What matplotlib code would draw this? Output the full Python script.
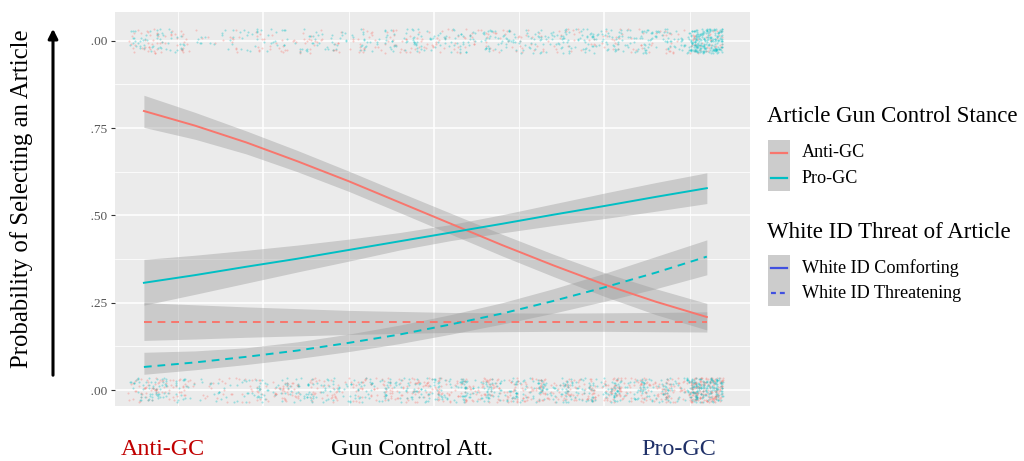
import numpy as np
import matplotlib.pyplot as plt
from matplotlib.patches import Rectangle
from matplotlib.lines import Line2D

plt.rcParams['font.family'] = ['Liberation Serif', 'DejaVu Serif']

# Gun control attitude grid for the fitted curves
att = [0.6, 1.2, 1.8, 2.4, 3.0, 3.6, 4.2, 4.8, 5.4, 6.0, 6.6, 7.2]

# Predicted probability of selecting an article, with 95% band
anti_comf = [0.799, 0.757, 0.709, 0.655, 0.598, 0.537, 0.476, 0.415, 0.357, 0.302, 0.253, 0.209]
anti_comf_lo = [0.752, 0.718, 0.676, 0.625, 0.569, 0.508, 0.446, 0.384, 0.325, 0.268, 0.216, 0.172]
anti_comf_hi = [0.844, 0.795, 0.742, 0.686, 0.627, 0.566, 0.506, 0.446, 0.389, 0.336, 0.290, 0.248]

pro_comf = [0.307, 0.329, 0.353, 0.376, 0.401, 0.426, 0.451, 0.476, 0.502, 0.527, 0.553, 0.578]
pro_comf_lo = [0.243, 0.274, 0.306, 0.338, 0.369, 0.401, 0.428, 0.450, 0.471, 0.491, 0.512, 0.534]
pro_comf_hi = [0.374, 0.386, 0.400, 0.415, 0.432, 0.451, 0.474, 0.502, 0.533, 0.564, 0.594, 0.622]

anti_thr = [0.195, 0.195, 0.195, 0.195, 0.195, 0.195, 0.195, 0.195, 0.195, 0.195, 0.195, 0.195]
anti_thr_lo = [0.142, 0.146, 0.151, 0.155, 0.159, 0.162, 0.165, 0.167, 0.168, 0.168, 0.167, 0.166]
anti_thr_hi = [0.250, 0.244, 0.238, 0.233, 0.228, 0.225, 0.222, 0.221, 0.220, 0.221, 0.222, 0.224]

pro_thr = [0.066, 0.079, 0.095, 0.113, 0.135, 0.159, 0.188, 0.219, 0.255, 0.294, 0.336, 0.382]
pro_thr_lo = [0.045, 0.058, 0.073, 0.090, 0.110, 0.133, 0.160, 0.189, 0.220, 0.254, 0.290, 0.330]
pro_thr_hi = [0.108, 0.112, 0.121, 0.138, 0.160, 0.186, 0.216, 0.250, 0.290, 0.334, 0.382, 0.430]

# Raw choices: number of respondents per attitude level
levels = [0.6, 0.9, 1.2, 1.5, 1.8, 2.1, 2.4, 2.7, 3.0, 3.3, 3.6, 3.9,
          4.2, 4.5, 4.8, 5.1, 5.4, 5.7, 6.0, 6.3, 6.6, 6.9, 7.2]
sel_anti = [28, 22, 7, 7, 9, 12, 14, 14, 12, 16, 18, 18, 16, 14, 14, 14, 12, 12, 12, 12, 14, 14, 35]
sel_pro = [28, 22, 7, 9, 12, 14, 16, 16, 14, 18, 23, 23, 23, 25, 28, 28, 28, 32, 32, 32, 37, 40, 200]
rej_anti = [38, 32, 9, 12, 18, 23, 28, 28, 23, 23, 32, 37, 37, 38, 40, 40, 40, 45, 45, 45, 49, 54, 160]
rej_pro = [38, 32, 9, 12, 18, 23, 28, 28, 23, 23, 32, 37, 37, 38, 37, 37, 37, 40, 40, 40, 40, 45, 140]

RED = '#F8766D'
TEAL = '#00BFC4'


def frac_hash(idx, salt):
    v = np.sin(idx * 12.9898 + salt * 78.233) * 43758.5453
    return v - np.floor(v)


def spread(counts, y0, start):
    # jitter the points around each attitude level
    xs, ys = [], []
    k = start
    for lv, n in zip(levels, counts):
        idx = np.arange(k, k + n, dtype=float)
        xs.append(lv + (frac_hash(idx, 1.0) - 0.5) * 0.38)
        ys.append(y0 + (frac_hash(idx, 2.0) - 0.5) * 0.07)
        k += n
    return np.concatenate(xs), np.concatenate(ys)


fig = plt.figure(figsize=(10.24, 4.61), dpi=100)
ax = fig.add_axes([115 / 1024, 1 - 406 / 461, 635 / 1024, 394 / 461])
ax.set_facecolor('#EBEBEB')
for s in ax.spines.values():
    s.set_visible(False)

ax.set_xlim(0.261, 7.706)
ax.set_ylim(-0.0458, 1.0825)
ax.set_xticks([2, 4, 6])
ax.set_xticks([1, 3, 5, 7], minor=True)
ax.set_yticks([0, 0.25, 0.5, 0.75, 1.0])
ax.set_yticks([0.125, 0.375, 0.625, 0.875], minor=True)
ax.set_yticklabels(['0.00', '0.25', '0.50', '0.75', '1.00'])
ax.grid(which='major', color='white', linewidth=1.1)
ax.grid(which='minor', color='white', linewidth=0.55)
ax.set_axisbelow(True)
ax.tick_params(axis='x', which='both', length=0, labelbottom=False)
ax.tick_params(axis='y', which='major', length=3, color='#333333',
               labelsize=9.5, labelcolor='#555555', pad=2)
ax.tick_params(axis='y', which='minor', length=0)

# jittered raw responses
x, y = spread(rej_anti, 0.0, 1)
ax.scatter(x, y, s=2.2, color=RED, alpha=0.35, linewidths=0)
x, y = spread(rej_pro, 0.0, 1500)
ax.scatter(x, y, s=2.2, color=TEAL, alpha=0.35, linewidths=0)
x, y = spread(sel_anti, 1.0, 3000)
ax.scatter(x, y, s=2.2, color=RED, alpha=0.35, linewidths=0)
x, y = spread(sel_pro, 1.0, 4500)
ax.scatter(x, y, s=2.2, color=TEAL, alpha=0.35, linewidths=0)

# confidence bands
for lo, hi in [(anti_comf_lo, anti_comf_hi), (pro_comf_lo, pro_comf_hi),
               (anti_thr_lo, anti_thr_hi), (pro_thr_lo, pro_thr_hi)]:
    ax.fill_between(att, lo, hi, color='#999999', alpha=0.4, linewidth=0)

dash = (0, (4, 3))
ax.plot(att, anti_comf, color=RED, linewidth=1.4)
ax.plot(att, pro_comf, color=TEAL, linewidth=1.4)
ax.plot(att, anti_thr, color=RED, linewidth=1.4, linestyle=dash)
ax.plot(att, pro_thr, color=TEAL, linewidth=1.4, linestyle=dash)

# left edge of the tick labels is trimmed
fig.add_artist(Rectangle((60 / 1024, 0), 31 / 1024, 1, transform=fig.transFigure,
                         facecolor='white', edgecolor='none', zorder=5))

# y axis title with arrow
fig.text(22 / 1024, 1 - 199 / 461, 'Probability of Selecting an Article',
         rotation=90, ha='center', va='center', fontsize=17.8)
fig.add_artist(plt.Annotation('', xy=(53 / 1024, 1 - 26 / 461), xytext=(53 / 1024, 1 - 378 / 461),
                              xycoords='figure fraction',
                              arrowprops=dict(arrowstyle='-|>', color='black', lw=2.2,
                                              mutation_scale=14)))

# x axis labels
fig.text(163 / 1024, 1 - 449 / 461, 'Anti-GC', color='#C00000', ha='center', va='center', fontsize=17.3)
fig.text(412 / 1024, 1 - 449 / 461, 'Gun Control Att.', color='black', ha='center', va='center', fontsize=17.3)
fig.text(679 / 1024, 1 - 449 / 461, 'Pro-GC', color='#1F3068', ha='center', va='center', fontsize=17.3)


def legend_block(title, ty, labels, colors, styles, top):
    fig.text(767 / 1024, 1 - ty / 461, title, ha='left', va='center', fontsize=16.5)
    for i, (lab, col, ls) in enumerate(zip(labels, colors, styles)):
        y0 = top + i * 25.5
        fig.add_artist(Rectangle((768 / 1024, 1 - (y0 + 25.5) / 461), 22 / 1024, 25.5 / 461,
                                 transform=fig.transFigure, facecolor='#CCCCCC', edgecolor='none'))
        yc = 1 - (y0 + 12.75) / 461
        fig.add_artist(Line2D([771 / 1024, 787 / 1024], [yc, yc], transform=fig.transFigure,
                              color=col, linewidth=1.6, linestyle=ls))
        fig.text(802 / 1024, yc, lab, ha='left', va='center', fontsize=13.1)


legend_block('Article Gun Control Stance', 117, ['Anti-GC', 'Pro-GC'],
             [RED, TEAL], ['-', '-'], 140)
legend_block('White ID Threat of Article', 232, ['White ID Comforting', 'White ID Threatening'],
             ['#4050E0', '#4050E0'], ['-', (0, (2.2, 1.8))], 255)

plt.savefig('out.png', dpi=100)
